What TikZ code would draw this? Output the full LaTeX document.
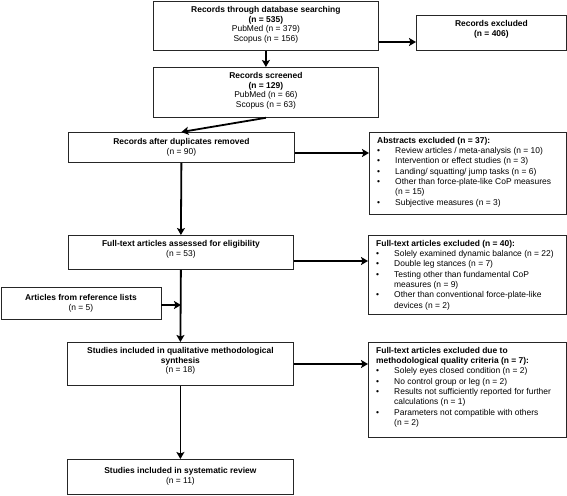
\documentclass[tikz,border=0pt]{standalone}
\usepackage{fontspec}
\setmainfont{Liberation Sans}
\usetikzlibrary{arrows.meta,calc}
\newcommand{\bl}{\makebox[18pt][l]{\textbullet}}
\newcommand{\ind}{\hspace*{18pt}}
\begin{document}
\begin{tikzpicture}[x=1pt,y=-1pt,
  box/.style={draw=black!85, line width=0.8pt, inner sep=0pt, anchor=north west},
  txt/.style={font=\fontsize{8.45}{9.7}\selectfont, inner sep=0pt, align=center},
  ltxt/.style={font=\fontsize{8.45}{10.3}\selectfont, inner sep=0pt, align=left, anchor=north west},
  arr/.style={line width=1.8pt, -{Stealth[length=7pt,width=8pt,inset=1.5pt]}}]
\useasboundingbox (0,0) rectangle (567,495);
% boxes
\node[box, minimum width=225pt, minimum height=49pt] (b1) at (153,1) {};
\node[box, minimum width=150pt, minimum height=35pt] (excl) at (416,15) {};
\node[box, minimum width=225pt, minimum height=50pt] (b2) at (153,67) {};
\node[box, minimum width=226pt, minimum height=30pt] (b3) at (68,132) {};
\node[box, minimum width=197pt, minimum height=82pt] (abs) at (369,132) {};
\node[box, minimum width=225pt, minimum height=34pt] (b4) at (68,235) {};
\node[box, minimum width=198pt, minimum height=79pt] (fte) at (368,235) {};
\node[box, minimum width=160pt, minimum height=32pt] (ref) at (0.5,287) {};
\node[box, minimum width=226pt, minimum height=43pt] (b5) at (67,342) {};
\node[box, minimum width=198pt, minimum height=95pt] (qual) at (368,342) {};
\node[box, minimum width=226pt, minimum height=35pt] (b6) at (67,459) {};
% texts
\node[txt, anchor=north] (t1) at ([yshift=-5pt]b1.north) {\textbf{Records through database searching}\\\textbf{(n = 535)}\\PubMed (n = 379)\\Scopus (n = 156)};
\node[txt, anchor=north] (texcl) at ([yshift=-5pt]excl.north) {\textbf{Records excluded}\\\textbf{(n = 406)}};
\node[txt, anchor=north] (t2) at ([yshift=-5pt]b2.north) {\textbf{Records screened}\\\textbf{(n = 129)}\\PubMed (n = 66)\\Scopus (n = 63)};
\node[txt, anchor=north] (t3) at ([yshift=-6pt]b3.north) {\textbf{Records after duplicates removed}\\(n = 90)};
\node[ltxt] (tabs) at ([xshift=8pt,yshift=-5pt]abs.north west) {\textbf{Abstracts excluded (n = 37):}\\
\bl Review articles / meta-analysis (n = 10)\\
\bl Intervention or effect studies (n = 3)\\
\bl Landing/ squatting/ jump tasks (n = 6)\\
\bl Other than force-plate-like CoP measures\\
\ind (n = 15)\\
\bl Subjective measures (n = 3)};
\node[txt, anchor=north] (t4) at ([yshift=-5pt]b4.north) {\textbf{Full-text articles assessed for eligibility}\\(n = 53)};
\node[ltxt] (tfte) at ([xshift=8pt,yshift=-5pt]fte.north west) {\textbf{Full-text articles excluded (n = 40):}\\
\bl Solely examined dynamic balance (n = 22)\\
\bl Double leg stances (n = 7)\\
\bl Testing other than fundamental CoP\\
\ind measures (n = 9)\\
\bl Other than conventional force-plate-like\\
\ind devices (n = 2)};
\node[txt, anchor=north] (tref) at ([yshift=-7pt]ref.north) {\textbf{Articles from reference lists}\\(n = 5)};
\node[txt, anchor=north] (t5) at ([yshift=-5pt]b5.north) {\textbf{Studies included in qualitative methodological}\\\textbf{synthesis}\\(n = 18)};
\node[ltxt] (tqual) at ([xshift=8pt,yshift=-5pt]qual.north west) {\textbf{Full-text articles excluded due to}\\
\textbf{methodological quality criteria (n = 7):}\\
\bl Solely eyes closed condition (n = 2)\\
\bl No control group or leg (n = 2)\\
\bl Results not sufficiently reported for further\\
\ind calculations (n = 1)\\
\bl Parameters not compatible with others\\
\ind (n = 2)};
\node[txt, anchor=north] (t6) at ([yshift=-8pt]b6.north) {\textbf{Studies included in systematic review}\\(n = 11)};
% connectors
\coordinate (j) at (181,305);
\draw[arr] (b1.east |- 0,42) -- (excl.west |- 0,42);
\draw[arr] (b1.south) -- (b2.north);
\draw[arr] (b2.south) -- (b3.north);
\draw[arr] (b3.east |- 0,153) -- (abs.west |- 0,153);
\draw[arr] (b3.south) -- (b4.north);
\draw[arr] (b4.east |- 0,261) -- (fte.west |- 0,261);
\draw[arr] (ref.east |- j) -- (j);
\draw[arr] (b4.south) -- (b5.north);
\draw[arr] (b5.east |- 0,364) -- (qual.west |- 0,364);
\draw[arr] (b5.south) -- (b6.north);
\end{tikzpicture}
\end{document}
